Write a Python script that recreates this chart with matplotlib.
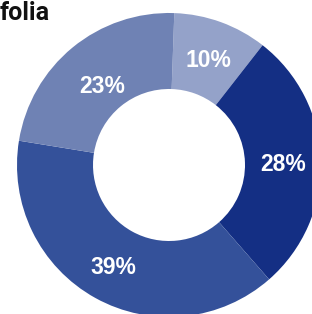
import matplotlib.pyplot as plt

# slice values, clockwise from 12 o'clock
labels = ["10%", "28%", "39%", "23%"]
shares = [10, 28, 39, 23]
slice_colors = ["#94a2c9", "#142f84", "#34519a", "#6f82b4"]
label_dist = [1.0, 1.0, 1.0, 0.92]  # relative radial scale of each label

fig = plt.figure(figsize=(3.12, 3.14), dpi=100)
# donut centre ~ (169, 165) px, outer radius ~152 px
ax = fig.add_axes([(169 - 152) / 312, (314 - 165 - 152) / 314, 304 / 312, 304 / 314])

wedges, texts, autotexts = ax.pie(
    shares, colors=slice_colors, startangle=88, counterclock=False,
    radius=1, autopct=lambda p: "", pctdistance=0.75,
    wedgeprops=dict(width=0.5, linewidth=0),
)
for t, lab, d in zip(autotexts, labels, label_dist):
    x, y = t.get_position()
    t.set_position((x * d, y * d - 0.02))
    t.set_text(lab)
    t.set_color("white")
    t.set_fontsize(16.5)
    t.set_fontweight("bold")
    t.set_family("Liberation Sans")

ax.set_xlim(-1, 1)
ax.set_ylim(-1, 1)
ax.set_aspect("equal")
ax.axis("off")

fig.text(0, 1 - 1 / 314, "folia", ha="left", va="top", fontsize=18,
         fontweight="bold", family="Roboto", color="#111111")

fig.savefig("out.png", dpi=100)
